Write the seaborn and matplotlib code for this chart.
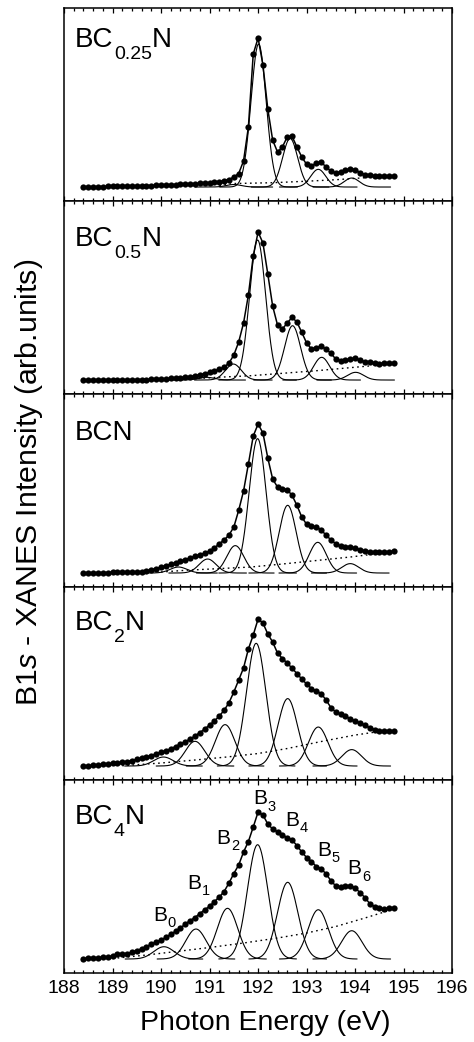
import numpy as np
import matplotlib.pyplot as plt
import seaborn as sns

sns.set_style('ticks')
plt.rcParams['font.family'] = ['Liberation Sans', 'DejaVu Sans']
plt.rcParams['mathtext.fontset'] = 'custom'
plt.rcParams['mathtext.rm'] = 'Liberation Sans'
plt.rcParams['mathtext.it'] = 'Liberation Sans:italic'
plt.rcParams['text.color'] = 'black'
plt.rcParams['axes.edgecolor'] = 'black'
plt.rcParams['xtick.color'] = 'black'
plt.rcParams['xtick.labelcolor'] = 'black'

# photon energy of the measured points (eV)
energy = np.round(np.arange(188.4, 194.85, 0.1), 1)

# measured B1s XANES intensity (arb. units, baseline = 0)
bc025n = [0, 0.2, 0.3, 0.4, 0.5, 0.6, 0.7, 0.8, 0.9, 1.0,
          1.1, 1.2, 1.3, 1.4, 1.5, 1.6, 1.8, 2.0, 2.2, 2.4,
          2.6, 2.8, 3.0, 3.3, 3.6, 4.0, 4.4, 4.9, 5.5, 6.2,
          7.5, 10, 13.5, 26, 60, 133, 149, 122, 78, 47,
          35, 40, 50, 50.7, 40, 30, 22.7, 21, 24, 25,
          20, 16, 14, 15, 16.7, 18.3, 17.3, 14.5, 12.5, 11.7,
          11.2, 11, 11, 11, 11]
bc05n = [0, 0, 0, 0, 0.1, 0.1, 0.1, 0.2, 0.2, 0.2,
         0.3, 0.3, 0.4, 0.5, 0.6, 0.8, 1.0, 1.3, 1.7, 2.0,
         2.4, 2.9, 3.5, 4.2, 5.2, 6.4, 7.6, 9.0, 10.6, 12.8,
         17, 25, 38, 57, 85, 124, 148, 137, 106, 74,
         55, 51, 57, 62.7, 58, 47.7, 37, 31, 32.3, 33.7,
         31, 26.7, 21, 19.3, 20, 21, 21.7, 20, 18.3, 17.8,
         17.3, 16.5, 16.8, 17, 17]
bcn = [0, 0.1, 0.2, 0.3, 0.4, 0.5, 0.6, 0.7, 0.8, 0.9,
       1.0, 1.1, 1.5, 2.3, 3.3, 4.5, 6.0, 7.2, 8.7, 10,
       12, 13.3, 15.3, 16.7, 18.3, 20, 22, 25, 29.3, 33,
       38, 46, 62.7, 82, 109, 137, 149, 140, 115, 94,
       86, 84.3, 83.3, 77.7, 67.7, 56, 48.7, 46.7, 46, 43.3,
       37.7, 33.3, 29.3, 26.7, 26, 26, 25, 23.3, 22, 21.3,
       21, 21, 21, 21.5, 21.7]
bc2n = [0, 0.3, 0.7, 1.1, 1.6, 2.1, 2.6, 3.2, 3.8, 4.5,
        5.5, 6.7, 7.8, 9, 10.5, 12.2, 13.7, 15.3, 17.3, 19.5,
        22, 24.3, 27, 30, 33.5, 37, 41, 45, 50, 55.7,
        63.3, 74, 86, 98, 117, 131, 147, 143, 132, 124,
        113, 107.5, 103, 97.8, 92.5, 87, 82, 77.5, 75, 72.5,
        66, 58.5, 54, 51.8, 49.7, 47.4, 45, 43, 40.7, 38.3,
        36.5, 35.3, 35, 35, 35]
bc4n = [0.5, 0.8, 1.1, 1.4, 1.7, 2.2, 2.7, 5, 5, 5.5,
        6.8, 8.5, 10.3, 12.5, 14.8, 17, 19, 21.7, 24.8, 27.7,
        31, 35, 38.5, 41.5, 45.5, 49.3, 52.7, 57.5, 62, 67.5,
        76, 85.5, 94, 107, 117.5, 132, 147, 144, 135, 130,
        127.3, 124, 121.5, 119, 113.5, 107, 101.5, 97.5, 92.5, 90.5,
        85, 78.5, 73, 71.8, 72.8, 73.3, 71, 66.5, 61.5, 55.5,
        52.5, 50.8, 50.3, 50.8, 51]

# fitted Gaussian components: centre (eV), height, width (eV)
bc025n_centre = [191.5, 192.01, 192.66, 193.24, 193.93]
bc025n_height = [2.5, 143, 48.5, 17.7, 9]
bc025n_sigma = 0.155
bc05n_centre = [190.94, 191.49, 191.99, 192.71, 193.31, 194.01]
bc05n_height = [2.7, 16, 140, 54.3, 22.7, 7.7]
bc05n_sigma = 0.165
bcn_centre = [190.36, 190.96, 191.53, 191.99, 192.61, 193.23, 193.9]
bcn_height = [6, 14, 27.4, 134.4, 67.7, 30.7, 9.4]
bcn_sigma = 0.175
bc2n_centre = [190.05, 190.70, 191.32, 191.96, 192.61, 193.24, 193.93]
bc2n_height = [9, 24.7, 41.4, 122.7, 67.4, 39, 16.4]
bc2n_sigma = 0.2
bc4n_centre = [190.06, 190.72, 191.37, 191.99, 192.61, 193.24, 193.93]
bc4n_height = [12.3, 30, 50.7, 114.3, 76.7, 49.3, 28.3]
bc4n_sigma = 0.21

# background (dotted) read at a few energies
bc025n_bg_e = [191.2, 191.5, 192.3, 193.0, 193.6, 194.2]
bc025n_bg_y = [1.5, 3.5, 4.3, 5.8, 7.3, 9.3]
bc05n_bg_e = [190.45, 191.15, 191.85, 192.5, 193.2, 193.75, 194.35]
bc05n_bg_y = [0.5, 2.7, 4.3, 6.7, 9.3, 11.7, 14.3]
bcn_bg_e = [190.0, 190.5, 191.15, 191.85, 192.5, 193.2, 193.9, 194.45]
bcn_bg_y = [1, 2.7, 4.3, 6, 9, 12.5, 16, 19.3]
bc2n_bg_e = [189.2, 190.0, 190.7, 191.35, 192.0, 192.6, 193.3, 194.0, 194.5]
bc2n_bg_y = [0.3, 3, 6, 9, 12.5, 17.5, 24.5, 31, 34.5]
bc4n_bg_e = [189.0, 189.7, 190.4, 191.0, 191.7, 192.4, 193.0, 193.6, 194.2, 194.7]
bc4n_bg_y = [0.5, 4, 8, 11.5, 16, 21, 26, 32.5, 41, 48.5]

# sample names: (main, subscript, tail)
sample_names = [('BC', '0.25', 'N'), ('BC', '0.5', 'N'), ('BCN', '', ''),
                ('BC', '2', 'N'), ('BC', '4', 'N')]
name_y = [0.80, 0.767, 0.762, 0.777, 0.77]

peak_subs = ['0', '1', '2', '3', '4', '5', '6']
peak_label_e = [189.84, 190.55, 191.14, 191.90, 192.56, 193.22, 193.84]
peak_label_y = [38, 70.5, 115.3, 154.6, 133, 103, 84.6]

panels = [
    (bc025n, bc025n_centre, bc025n_height, bc025n_sigma, bc025n_bg_e, bc025n_bg_y),
    (bc05n, bc05n_centre, bc05n_height, bc05n_sigma, bc05n_bg_e, bc05n_bg_y),
    (bcn, bcn_centre, bcn_height, bcn_sigma, bcn_bg_e, bcn_bg_y),
    (bc2n, bc2n_centre, bc2n_height, bc2n_sigma, bc2n_bg_e, bc2n_bg_y),
    (bc4n, bc4n_centre, bc4n_height, bc4n_sigma, bc4n_bg_e, bc4n_bg_y),
]


def sub_label(ax, x, y, main, sub, tail, size, sub_size, drop, transform=None):
    kw = dict(fontsize=size, va='baseline', ha='left')
    if transform is not None:
        kw['transform'] = transform
    t = ax.text(x, y, main, **kw)
    if not sub:
        return
    s = ax.annotate(sub, xy=(1, 0), xycoords=t, xytext=(0.3, drop),
                    textcoords='offset points', fontsize=sub_size, va='bottom', ha='left')
    if tail:
        ax.annotate(tail, xy=(1, 0), xycoords=(s, t), xytext=(0.3, 0),
                    textcoords='offset points', fontsize=size, va='bottom', ha='left')


fig, axs = plt.subplots(5, 1, figsize=(4.74, 10.42), dpi=100, sharex=True)
fig.subplots_adjust(left=0.135, right=0.954, top=0.9923, bottom=0.0662, hspace=0)

for ax, (vals, centres, heights, sig, bg_e, bg_y), name, ny in zip(axs, panels, sample_names, name_y):
    # Gaussian components
    for c, h in zip(centres, heights):
        xx = np.linspace(c - 0.8, c + 0.8, 161)
        sns.lineplot(x=xx, y=h * np.exp(-(xx - c) ** 2 / (2 * sig ** 2)), ax=ax,
                     color='black', linewidth=0.8)
    # background
    sns.lineplot(x=bg_e, y=bg_y, ax=ax, color='black', linewidth=1.0, linestyle=(0, (1.2, 2.5)))
    # measured data
    sns.lineplot(x=energy, y=vals, ax=ax, color='black', linewidth=1.1,
                 marker='o', markersize=4.5, markeredgewidth=0)
    sub_label(ax, 0.028, ny, *name, size=20, sub_size=14, drop=-7.2, transform=ax.transAxes)
    ax.set_ylim(-14, 179)
    ax.set_yticks([])
    ax.set_ylabel('')
    for s in ax.spines.values():
        s.set_linewidth(1.1)
    ax.tick_params(axis='x', which='both', direction='in', top=True, bottom=True,
                   width=0.9, labelsize=14, pad=5)
    ax.tick_params(axis='x', which='major', length=3.8)
    ax.tick_params(axis='x', which='minor', length=2.2)

for sub, le, ly in zip(peak_subs, peak_label_e, peak_label_y):
    sub_label(axs[-1], le, ly, 'B', sub, '', size=15, sub_size=10.5, drop=-3.7)

axs[-1].set_xlim(188, 196)
axs[-1].set_xticks(range(188, 197))
axs[-1].set_xticks(np.arange(188, 196.01, 0.2), minor=True)
axs[-1].set_xlabel('')

fig.text(0.559, 0.018, 'Photon Energy (eV)', fontsize=20.5, ha='center', va='center')
fig.text(0.061, 0.537, r'B1$\mathit{s}$ - XANES Intensity (arb.units)', fontsize=21.8,
         rotation=90, ha='center', va='center')

fig.savefig('out.png', dpi=100)
